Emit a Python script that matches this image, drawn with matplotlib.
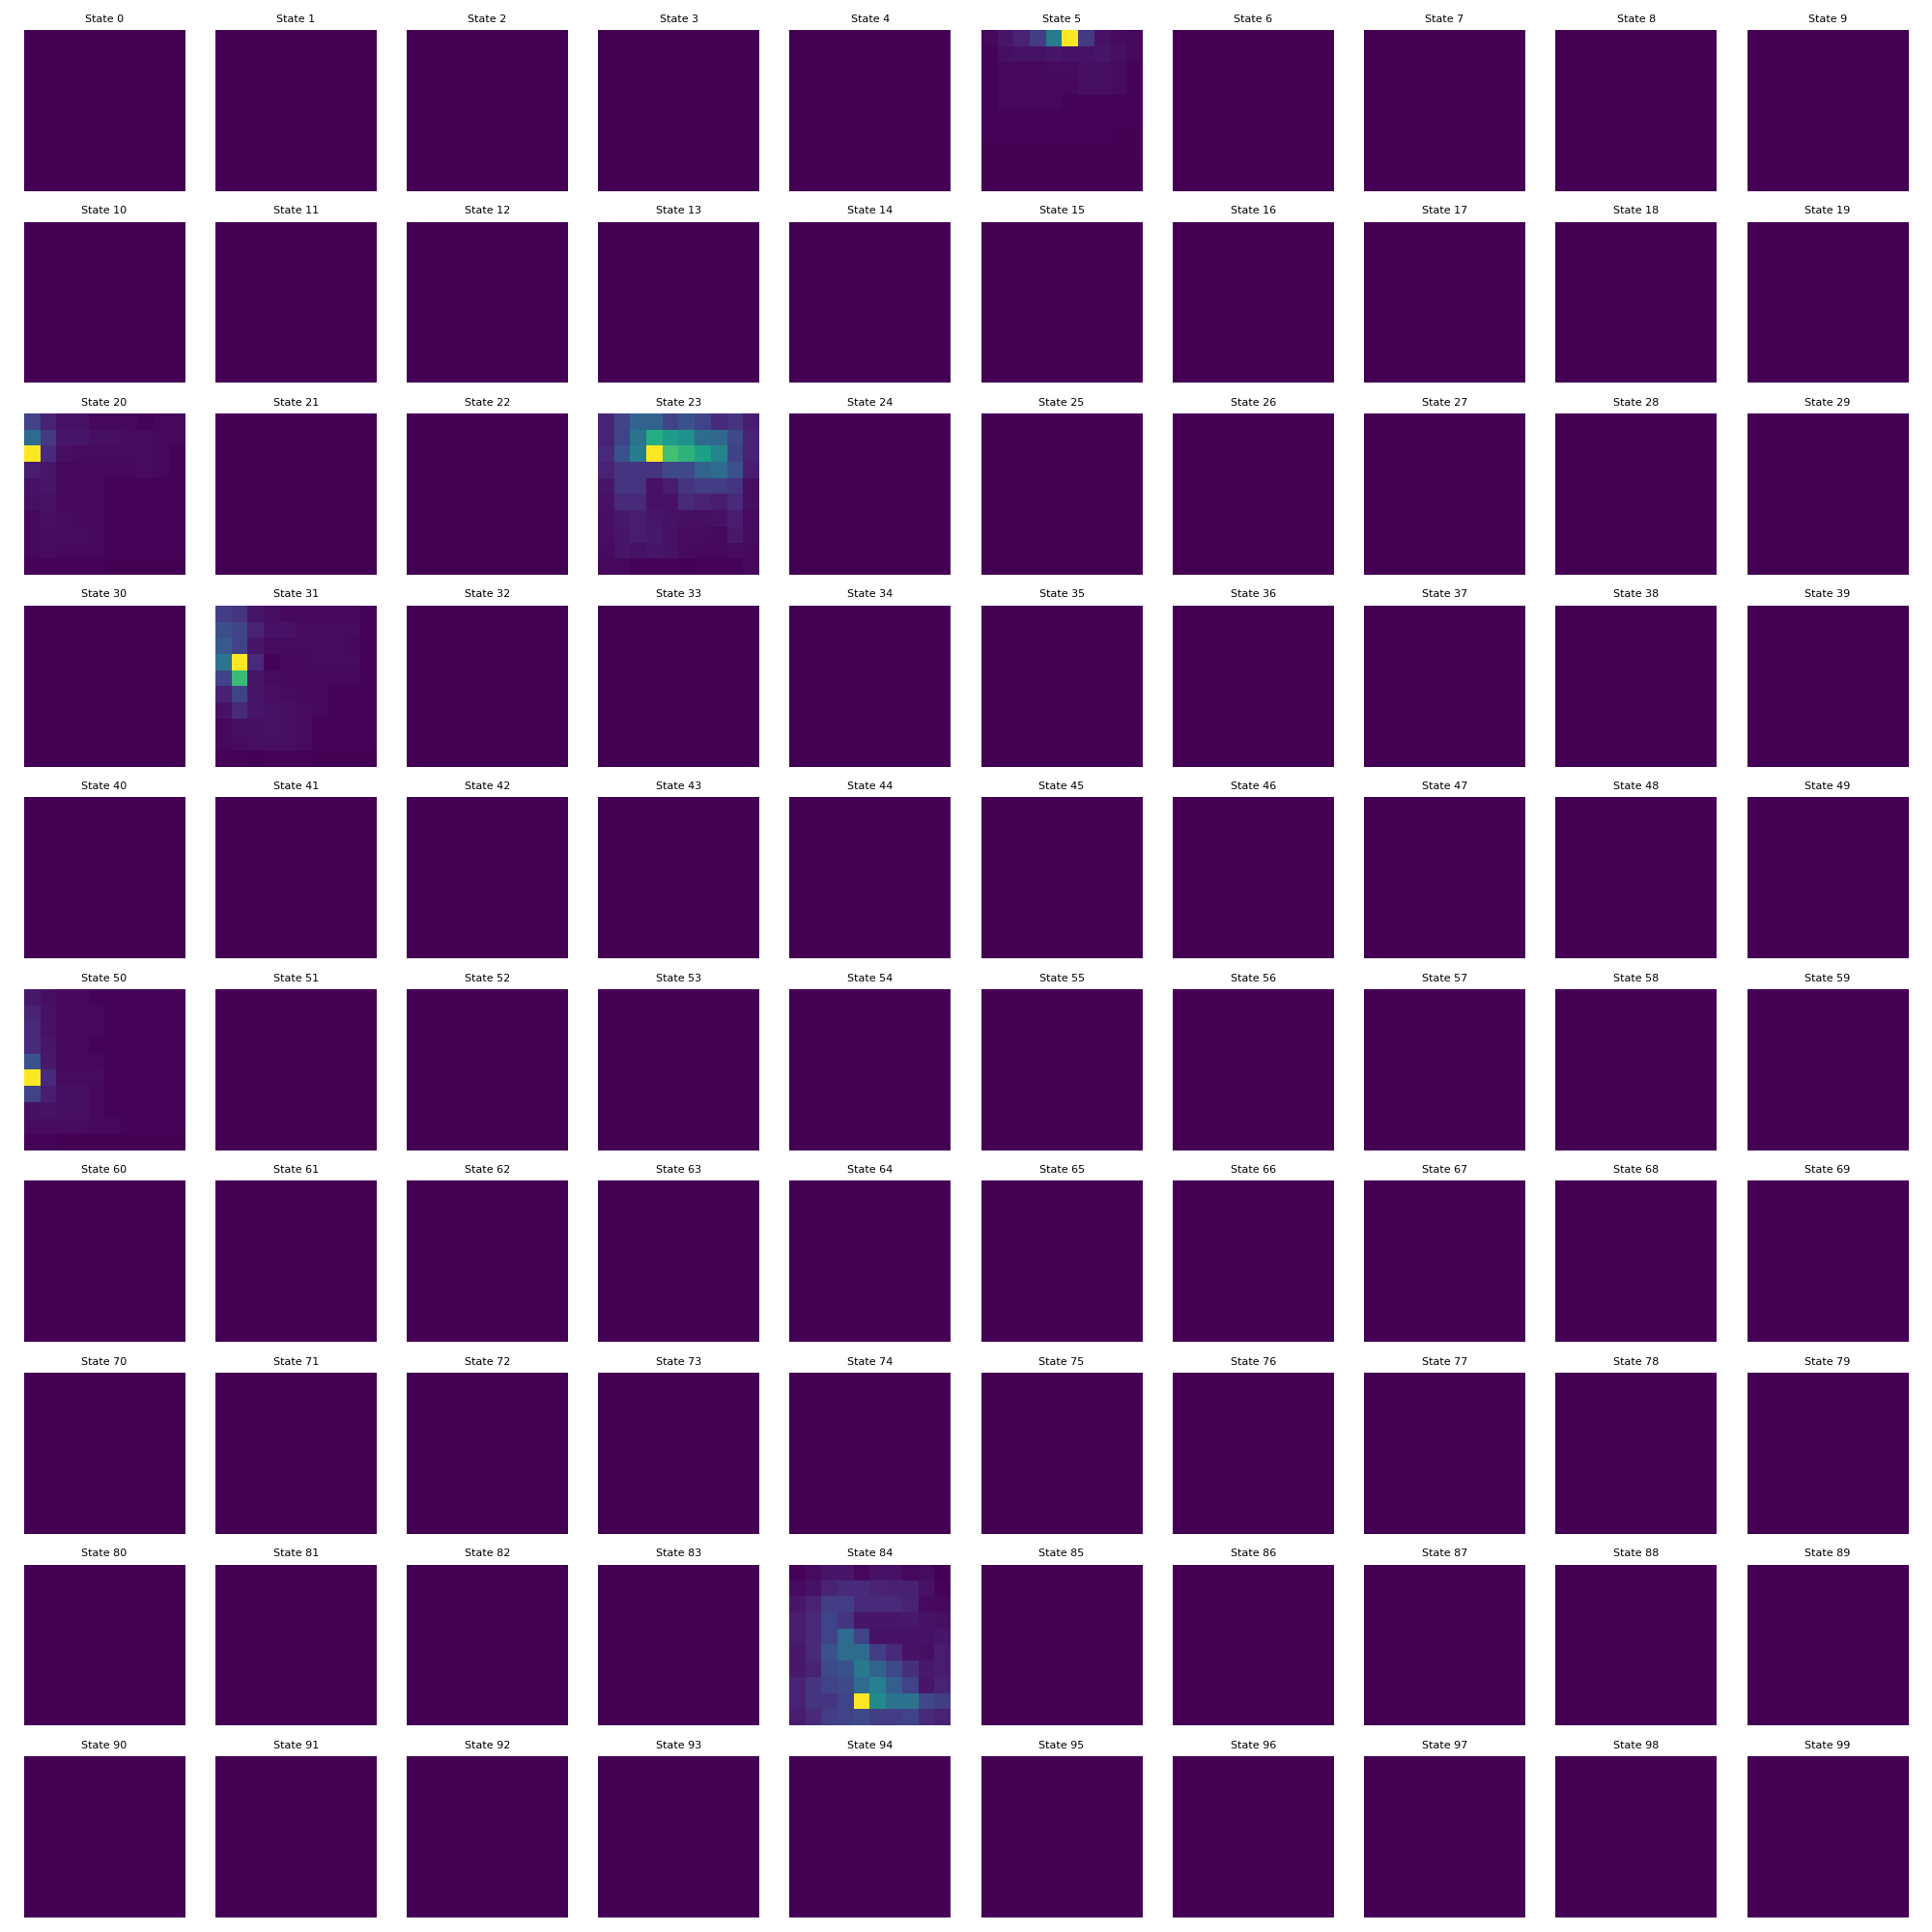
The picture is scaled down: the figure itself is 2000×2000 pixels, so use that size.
import matplotlib
matplotlib.use('Agg')
import matplotlib.pyplot as plt
import numpy as np

N_STATES = 100
GRID = 10

# heat values of the few states that are not empty (rows top to bottom)
state5 = [
    [0.02, 0.06, 0.10, 0.18, 0.42, 1.00, 0.17, 0.05, 0.03, 0.02],
    [0.01, 0.04, 0.05, 0.05, 0.06, 0.05, 0.05, 0.06, 0.04, 0.02],
    [0.01, 0.02, 0.02, 0.02, 0.03, 0.03, 0.04, 0.04, 0.03, 0.01],
    [0.01, 0.02, 0.02, 0.02, 0.02, 0.02, 0.04, 0.04, 0.03, 0.01],
    [0.01, 0.02, 0.02, 0.02, 0.02, 0.01, 0.01, 0.01, 0.01, 0.01],
    [0.01, 0.01, 0.01, 0.01, 0.01, 0.01, 0.01, 0.01, 0.01, 0.01],
    [0.01, 0.01, 0.01, 0.01, 0.01, 0.01, 0.01, 0.01, 0.005, 0.005],
    [0.005, 0.005, 0.005, 0.005, 0.005, 0.005, 0.005, 0.005, 0.005, 0.005],
    [0.005, 0.005, 0.005, 0.005, 0.005, 0.005, 0.005, 0.005, 0.0, 0.0],
    [0.0, 0.0, 0.0, 0.0, 0.0, 0.0, 0.0, 0.0, 0.0, 0.0],
]

state20 = [
    [0.20, 0.10, 0.05, 0.05, 0.02, 0.02, 0.02, 0.01, 0.02, 0.02],
    [0.35, 0.17, 0.06, 0.06, 0.04, 0.04, 0.03, 0.03, 0.02, 0.02],
    [1.00, 0.12, 0.04, 0.03, 0.03, 0.03, 0.03, 0.03, 0.02, 0.01],
    [0.08, 0.06, 0.02, 0.02, 0.02, 0.02, 0.02, 0.03, 0.02, 0.01],
    [0.05, 0.06, 0.02, 0.02, 0.02, 0.01, 0.01, 0.01, 0.01, 0.01],
    [0.04, 0.05, 0.02, 0.02, 0.02, 0.01, 0.01, 0.01, 0.01, 0.01],
    [0.02, 0.04, 0.03, 0.02, 0.02, 0.01, 0.01, 0.01, 0.01, 0.01],
    [0.02, 0.03, 0.03, 0.03, 0.02, 0.01, 0.01, 0.01, 0.01, 0.01],
    [0.02, 0.03, 0.02, 0.02, 0.02, 0.01, 0.01, 0.01, 0.01, 0.01],
    [0.01, 0.01, 0.01, 0.01, 0.01, 0.0, 0.0, 0.0, 0.0, 0.0],
]

state23 = [
    [0.10, 0.20, 0.32, 0.32, 0.20, 0.25, 0.20, 0.12, 0.15, 0.08],
    [0.10, 0.20, 0.38, 0.62, 0.55, 0.50, 0.35, 0.33, 0.22, 0.10],
    [0.12, 0.25, 0.42, 1.00, 0.70, 0.65, 0.57, 0.45, 0.20, 0.10],
    [0.10, 0.15, 0.15, 0.15, 0.22, 0.22, 0.32, 0.35, 0.25, 0.08],
    [0.06, 0.15, 0.15, 0.05, 0.08, 0.15, 0.18, 0.18, 0.15, 0.04],
    [0.05, 0.12, 0.12, 0.05, 0.05, 0.12, 0.10, 0.08, 0.12, 0.04],
    [0.04, 0.07, 0.08, 0.06, 0.05, 0.04, 0.04, 0.05, 0.08, 0.03],
    [0.04, 0.06, 0.08, 0.07, 0.05, 0.03, 0.03, 0.02, 0.07, 0.03],
    [0.03, 0.06, 0.05, 0.06, 0.05, 0.03, 0.02, 0.02, 0.03, 0.02],
    [0.02, 0.02, 0.01, 0.01, 0.01, 0.0, 0.01, 0.01, 0.01, 0.02],
]

state31 = [
    [0.18, 0.15, 0.06, 0.04, 0.02, 0.02, 0.02, 0.02, 0.02, 0.01],
    [0.24, 0.20, 0.10, 0.05, 0.05, 0.03, 0.03, 0.03, 0.03, 0.01],
    [0.28, 0.20, 0.06, 0.03, 0.03, 0.03, 0.03, 0.03, 0.02, 0.01],
    [0.38, 1.00, 0.12, 0.01, 0.02, 0.02, 0.03, 0.03, 0.03, 0.01],
    [0.20, 0.68, 0.06, 0.03, 0.02, 0.02, 0.02, 0.02, 0.02, 0.01],
    [0.09, 0.20, 0.06, 0.04, 0.03, 0.02, 0.02, 0.01, 0.01, 0.01],
    [0.05, 0.12, 0.06, 0.05, 0.04, 0.03, 0.02, 0.01, 0.01, 0.01],
    [0.02, 0.04, 0.04, 0.05, 0.04, 0.03, 0.01, 0.01, 0.01, 0.01],
    [0.02, 0.03, 0.04, 0.04, 0.04, 0.03, 0.01, 0.01, 0.01, 0.01],
    [0.01, 0.01, 0.0, 0.01, 0.01, 0.01, 0.0, 0.0, 0.0, 0.0],
]

state50 = [
    [0.07, 0.04, 0.02, 0.02, 0.01, 0.01, 0.01, 0.01, 0.01, 0.01],
    [0.10, 0.05, 0.02, 0.02, 0.02, 0.01, 0.01, 0.01, 0.01, 0.01],
    [0.12, 0.05, 0.02, 0.02, 0.02, 0.01, 0.01, 0.01, 0.01, 0.01],
    [0.12, 0.06, 0.02, 0.02, 0.01, 0.01, 0.01, 0.01, 0.01, 0.01],
    [0.25, 0.07, 0.02, 0.02, 0.02, 0.01, 0.01, 0.01, 0.01, 0.01],
    [1.00, 0.12, 0.03, 0.03, 0.03, 0.01, 0.01, 0.01, 0.01, 0.01],
    [0.20, 0.08, 0.04, 0.04, 0.02, 0.01, 0.01, 0.01, 0.01, 0.01],
    [0.04, 0.05, 0.04, 0.04, 0.02, 0.01, 0.01, 0.01, 0.01, 0.01],
    [0.03, 0.03, 0.03, 0.03, 0.02, 0.02, 0.01, 0.01, 0.01, 0.01],
    [0.01, 0.01, 0.0, 0.0, 0.0, 0.0, 0.0, 0.0, 0.0, 0.0],
]

state84 = [
    [0.01, 0.03, 0.06, 0.06, 0.02, 0.05, 0.05, 0.02, 0.03, 0.0],
    [0.03, 0.05, 0.10, 0.12, 0.12, 0.10, 0.09, 0.09, 0.05, 0.01],
    [0.06, 0.10, 0.18, 0.18, 0.12, 0.12, 0.12, 0.10, 0.03, 0.02],
    [0.08, 0.12, 0.20, 0.15, 0.06, 0.06, 0.06, 0.07, 0.05, 0.04],
    [0.08, 0.12, 0.20, 0.35, 0.20, 0.05, 0.05, 0.05, 0.05, 0.06],
    [0.07, 0.12, 0.25, 0.35, 0.35, 0.18, 0.12, 0.05, 0.04, 0.08],
    [0.07, 0.10, 0.22, 0.25, 0.40, 0.32, 0.22, 0.14, 0.07, 0.08],
    [0.10, 0.15, 0.20, 0.22, 0.35, 0.43, 0.30, 0.20, 0.06, 0.10],
    [0.10, 0.15, 0.15, 0.20, 1.00, 0.48, 0.38, 0.38, 0.22, 0.18],
    [0.08, 0.12, 0.18, 0.20, 0.22, 0.18, 0.18, 0.20, 0.12, 0.10],
]

active = {5: state5, 20: state20, 23: state23, 31: state31, 50: state50, 84: state84}

fig, axes = plt.subplots(GRID, GRID, figsize=(20, 20))
fig.subplots_adjust(left=0.012, right=0.988, top=0.9845, bottom=0.0075,
                    wspace=0.18, hspace=0.19)

for s in range(N_STATES):
    ax = axes[s // GRID, s % GRID]
    data = np.array(active.get(s, np.zeros((10, 10))))
    ax.imshow(data, cmap='viridis')
    ax.set_title(f'State {s}', fontsize=8)
    ax.axis('off')

fig.savefig('out.png', dpi=100)
